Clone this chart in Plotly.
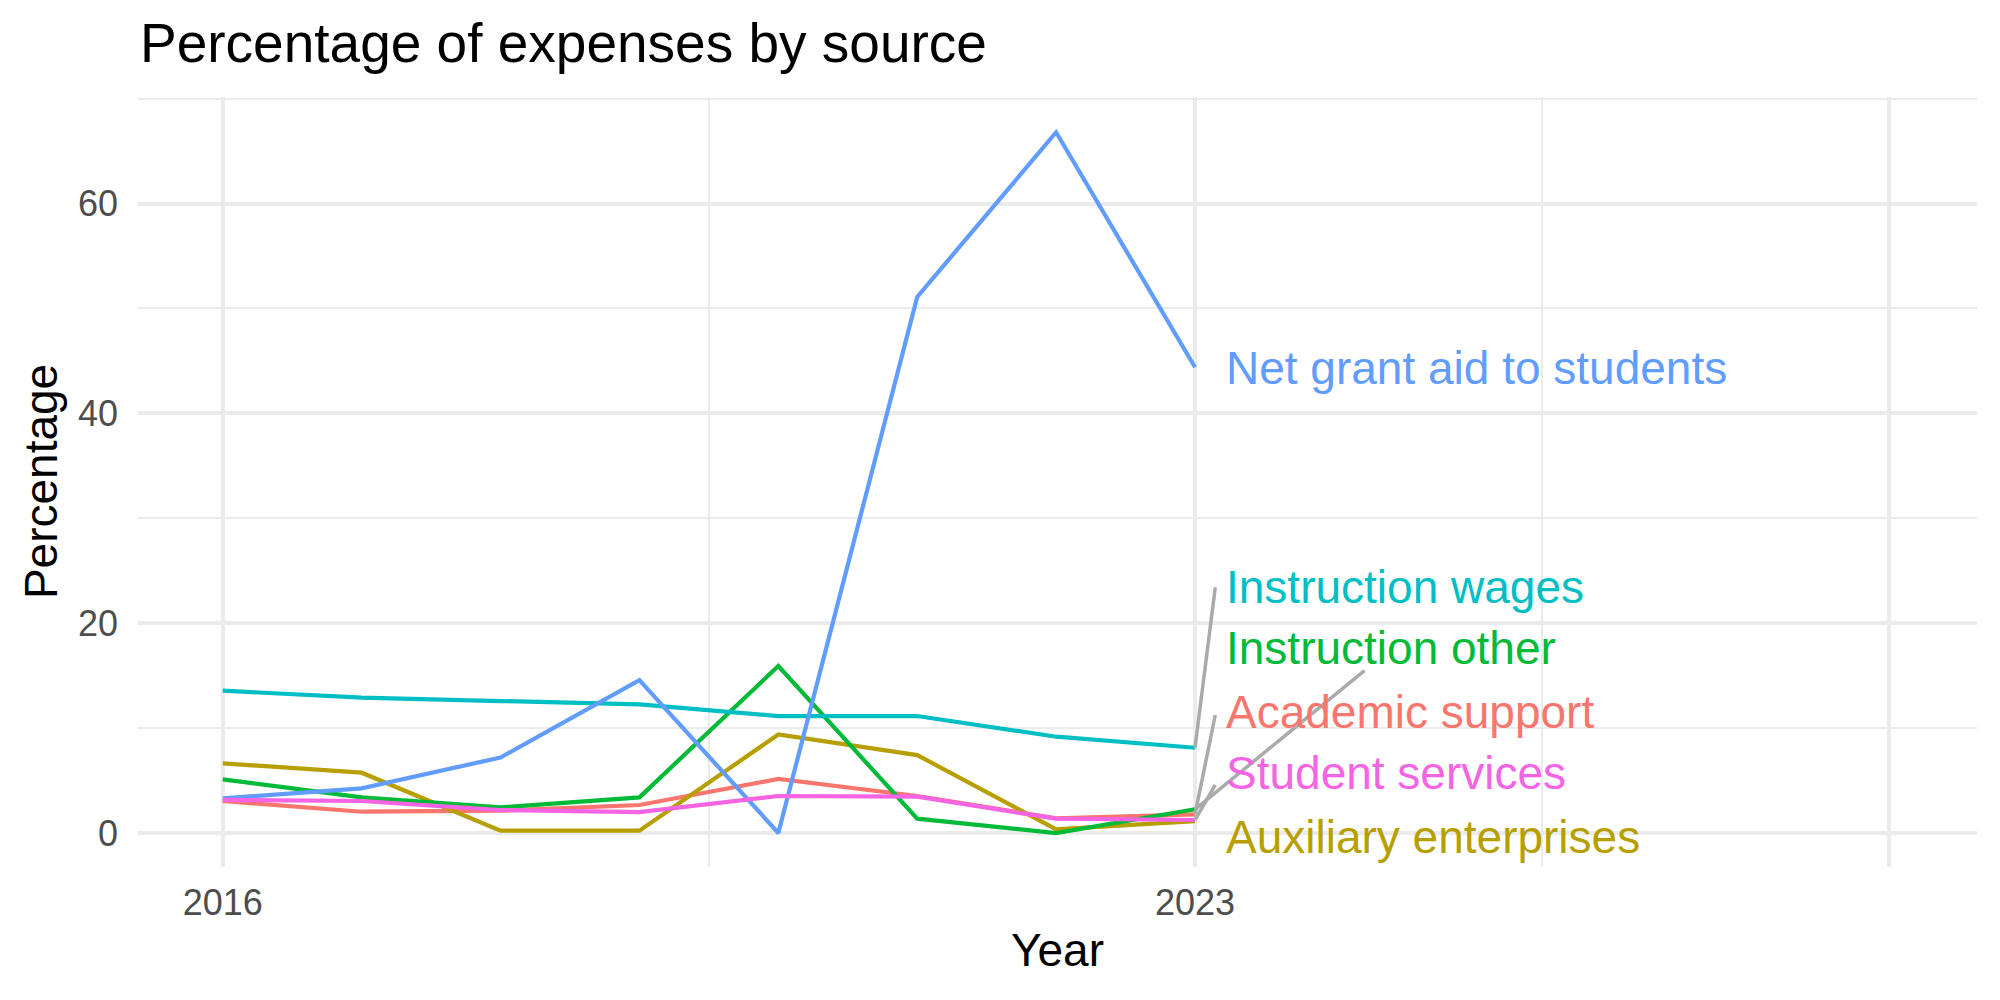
import plotly.graph_objects as go

years = [2016, 2017, 2018, 2019, 2020, 2021, 2022, 2023]
academic_support = [3.05, 2.03, 2.13, 2.67, 5.15, 3.53, 1.40, 1.78]
auxiliary_enterprises = [6.64, 5.75, 0.22, 0.22, 9.40, 7.43, 0.35, 1.14]
instruction_other = [5.12, 3.40, 2.45, 3.40, 15.92, 1.37, 0.00, 2.26]
instruction_wages = [13.57, 12.90, 12.58, 12.27, 11.15, 11.15, 9.18, 8.13]
net_grant_aid = [3.30, 4.26, 7.20, 14.58, 0.00, 51.10, 66.80, 44.40]
student_services = [3.15, 3.05, 2.19, 2.00, 3.53, 3.47, 1.37, 1.24]

series_names = ["Academic support", "Auxiliary enterprises", "Instruction other",
                "Instruction wages", "Net grant aid to students", "Student services"]
series_values = [academic_support, auxiliary_enterprises, instruction_other,
                 instruction_wages, net_grant_aid, student_services]
colors = ["#F8766D", "#B79F00", "#00BA38", "#00BFC4", "#619CFF", "#F564E3"]

# repelled label placement (data coords) and connector end points
label_x = 2023.21
label_y = {"Academic support": 11.56, "Auxiliary enterprises": -0.35,
           "Instruction other": 17.64, "Instruction wages": 23.48,
           "Net grant aid to students": 44.33, "Student services": 5.72}
segment_end = {"Academic support": (2023.146, 11.25),
               "Instruction other": (2024.22, 15.47),
               "Instruction wages": (2023.146, 23.42),
               "Student services": (2023.146, 4.58)}

FONT = "Liberation Sans, Arial, Helvetica, sans-serif"

fig = go.Figure()
for name, vals, col in zip(series_names, series_values, colors):
    fig.add_trace(go.Scatter(x=years, y=vals, mode="lines", name=name,
                             line=dict(color=col, width=4.2), showlegend=False))

shapes = []
for name, vals in zip(series_names, series_values):
    if name in segment_end:
        ex, ey = segment_end[name]
        shapes.append(dict(type="line", xref="x", yref="y", x0=years[-1], y0=vals[-1],
                           x1=ex, y1=ey, line=dict(color="#AAAAAA", width=3.5), layer="above"))

annotations = []
for name, col in zip(series_names, colors):
    annotations.append(dict(x=label_x, y=label_y[name], xref="x", yref="y", text=name,
                            showarrow=False, xanchor="left", yanchor="middle",
                            font=dict(family=FONT, size=46, color=col)))
annotations.append(dict(x=0.5, y=-0.1078, xref="paper", yref="paper", text="Year",
                        showarrow=False, xanchor="center", yanchor="middle",
                        font=dict(family=FONT, size=46, color="black")))
annotations.append(dict(x=-0.0527, y=0.5, xref="paper", yref="paper", text="Percentage",
                        showarrow=False, xanchor="center", yanchor="middle", textangle=-90,
                        font=dict(family=FONT, size=46, color="black")))

fig.update_layout(
    width=2000, height=1000,
    margin=dict(l=138, r=23, t=97, b=133),
    paper_bgcolor="white", plot_bgcolor="white",
    title=dict(text="Percentage of expenses by source", x=0.07, xanchor="left",
               y=0.957, yanchor="middle", xref="container", yref="container",
               font=dict(family=FONT, size=55, color="black")),
    shapes=shapes, annotations=annotations,
    xaxis=dict(range=[2015.39, 2028.63], tickmode="array", tickvals=[2016, 2023, 2028],
               ticktext=["2016", "2023", ""], showgrid=True, gridcolor="#EBEBEB", gridwidth=4,
               zeroline=False, showline=False, ticks="",
               tickfont=dict(family=FONT, size=36, color="#4D4D4D"),
               ticklabelstandoff=11,
               minor=dict(tickmode="array", tickvals=[2019.5, 2025.5], showgrid=True,
                          gridcolor="#EBEBEB", gridwidth=2, ticks="")),
    yaxis=dict(range=[-3.24, 70.16], tickmode="array", tickvals=[0, 20, 40, 60],
               showgrid=True, gridcolor="#EBEBEB", gridwidth=4, zeroline=False,
               showline=False, ticks="",
               tickfont=dict(family=FONT, size=36, color="#4D4D4D"),
               ticklabelstandoff=19,
               minor=dict(tickmode="array", tickvals=[10, 30, 50, 70], showgrid=True,
                          gridcolor="#EBEBEB", gridwidth=2, ticks="")),
)

fig.write_html("out.html")
